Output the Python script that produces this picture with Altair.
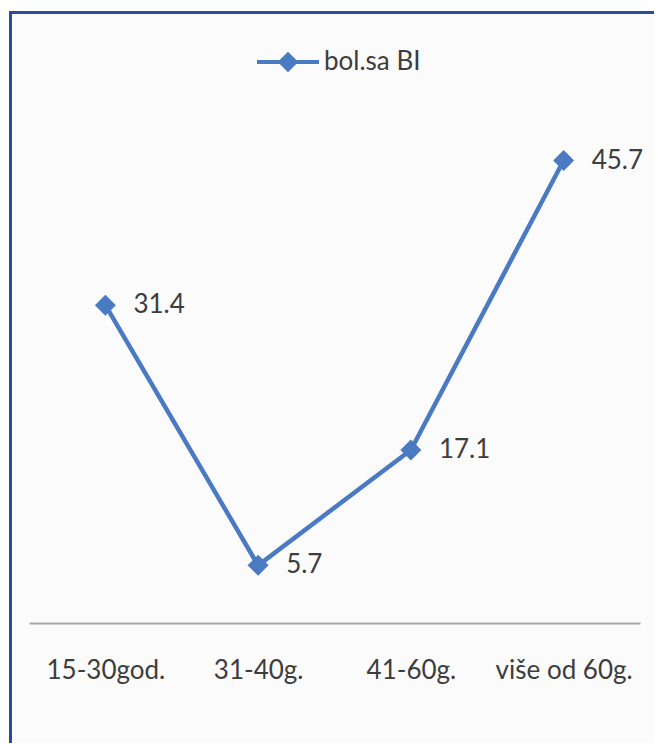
import altair as alt
import pandas as pd

categories = ["15-30god.", "31-40g.", "41-60g.", "više od 60g."]
values = [31.4, 5.7, 17.1, 45.7]
series_name = "bol.sa BI"

BLUE = "#4A7BC2"
TEXT = "#3d3d3d"
FONT = "Lato"

df = pd.DataFrame({"cat": categories, "val": values, "series": [series_name] * len(categories)})

x = alt.X("cat:N", sort=categories, title=None,
          axis=alt.Axis(labelAngle=0, ticks=False, grid=False, domainColor="#a8a8a8",
                        domainWidth=2, labelFont=FONT, labelFontSize=26, labelColor=TEXT,
                        labelPadding=34, zindex=1))
y = alt.Y("val:Q", scale=alt.Scale(domain=[0, 50]), axis=None)

frame = alt.Chart(pd.DataFrame({"k": [0]})).mark_rect(
    fill="#fbfbfb", stroke="#2E4A9E", strokeWidth=3
).encode(x=alt.value(-18.5), x2=alt.value(700), y=alt.value(-104.5), y2=alt.value(900))

base = alt.Chart(df)

line = base.mark_line(strokeWidth=4.5, color=BLUE).encode(x=x, y=y)

points = base.mark_point(shape="diamond", filled=True, size=440, opacity=1).encode(
    x=x, y=y,
    color=alt.Color("series:N", scale=alt.Scale(range=[BLUE]), title=None,
                    legend=alt.Legend(orient="none", legendX=226, legendY=-88,
                                      symbolType="M-1,0H1M-0.24,0L0,-0.24L0.24,0L0,0.24Z",
                                      symbolSize=3844, symbolStrokeColor=BLUE,
                                      symbolStrokeWidth=4, symbolFillColor=BLUE,
                                      labelFont=FONT, labelFontSize=26, labelColor=TEXT,
                                      labelOffset=3, padding=0, labelLimit=300))
)

labels = base.mark_text(align="left", baseline="middle", dx=28, font=FONT, fontSize=26,
                        color=TEXT).encode(x=x, y=y, text=alt.Text("val:Q", format=".1f"))

chart = alt.layer(frame, line, points, labels).properties(
    width=611, height=506,
    autosize=alt.AutoSizeParams(type="none"),
    padding={"left": 21, "top": 109, "right": 14, "bottom": 120},
    background="white",
).configure_view(stroke=None)

chart.save("out.html", embed_options={"renderer": "svg", "actions": False})
